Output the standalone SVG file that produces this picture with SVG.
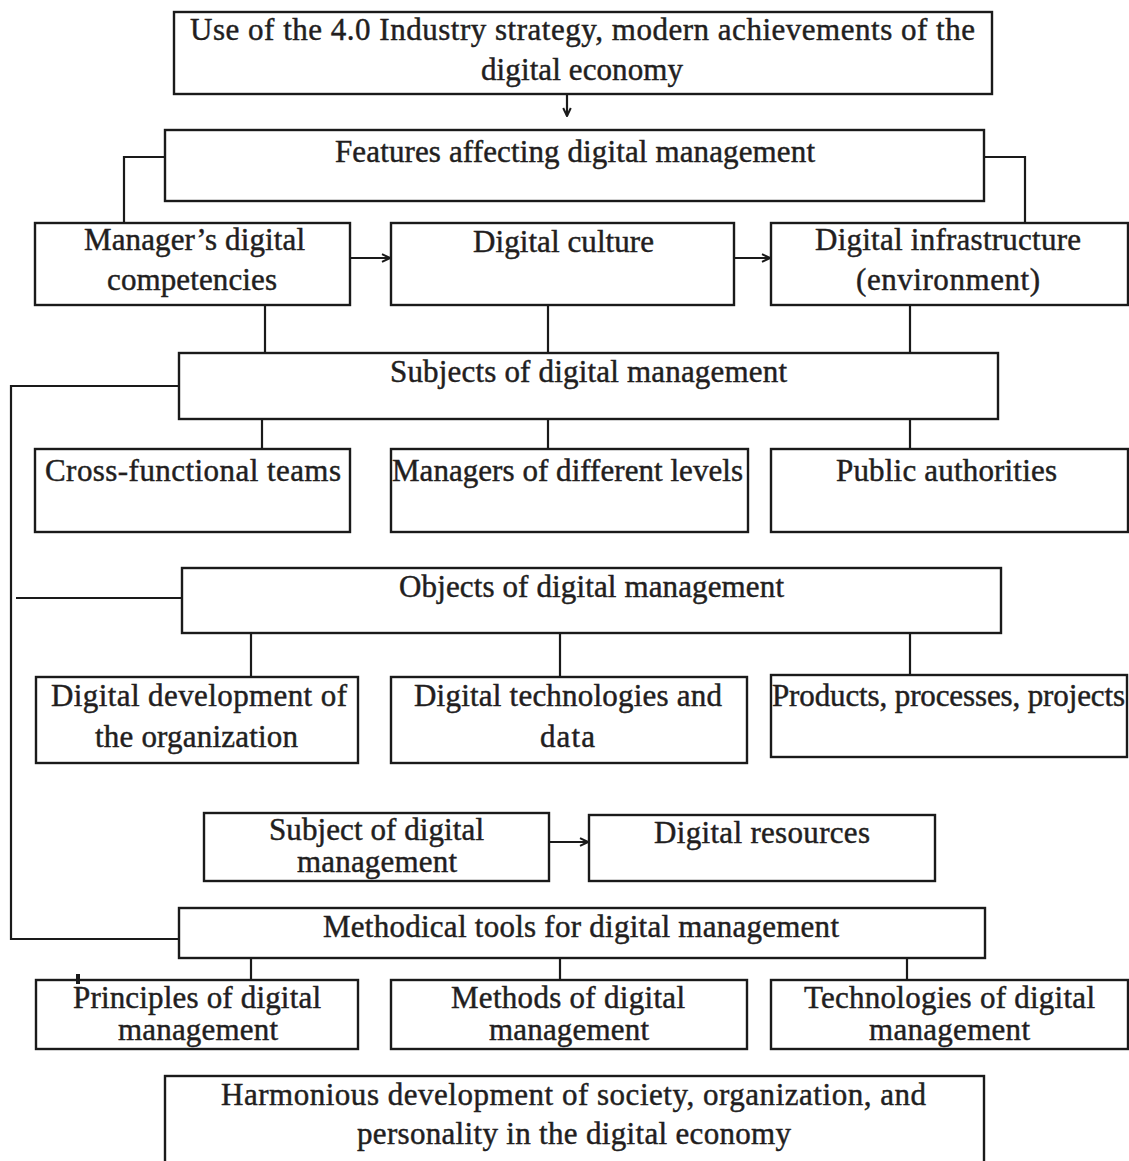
<svg xmlns="http://www.w3.org/2000/svg" width="1129" height="1161" viewBox="0 0 1129 1161">
  <style>
    .box { fill: #ffffff; stroke: #1a1a1a; stroke-width: 2.4; }
    .lbl { font-family: "Liberation Serif", "Times New Roman", serif; font-size: 31px; fill: #221e1e; stroke: #221e1e; stroke-width: 0.45; }
    .wire { fill: none; stroke: #1a1a1a; stroke-width: 2.2; }
  </style>
  <defs>
    <marker id="arrow" viewBox="0 0 10 10" refX="9" refY="5" markerWidth="10" markerHeight="10" markerUnits="userSpaceOnUse" orient="auto">
      <path d="M1,1.2 L9,5 L1,8.8" fill="none" stroke="#1a1a1a" stroke-width="2"/>
    </marker>
  </defs>
  <rect width="1129" height="1161" fill="#ffffff"/>

  <!-- connectors -->
  <g id="connectors">
    <line class="wire" x1="567" y1="84" x2="567" y2="116" marker-end="url(#arrow)"/>
    <polyline class="wire" points="165,157 124,157 124,223"/>
    <polyline class="wire" points="984,157 1025,157 1025,223"/>
    <line class="wire" x1="350" y1="258" x2="390" y2="258" marker-end="url(#arrow)"/>
    <line class="wire" x1="734" y1="258" x2="770" y2="258" marker-end="url(#arrow)"/>
    <line class="wire" x1="265" y1="305" x2="265" y2="353"/>
    <line class="wire" x1="548" y1="305" x2="548" y2="353"/>
    <line class="wire" x1="910" y1="305" x2="910" y2="353"/>
    <line class="wire" x1="262" y1="419" x2="262" y2="449"/>
    <line class="wire" x1="548" y1="419" x2="548" y2="449"/>
    <line class="wire" x1="910" y1="419" x2="910" y2="449"/>
    <polyline class="wire" points="179,386 11,386 11,939 179,939"/>
    <line class="wire" x1="16" y1="598" x2="182" y2="598"/>
    <line class="wire" x1="251" y1="633" x2="251" y2="677"/>
    <line class="wire" x1="560" y1="633" x2="560" y2="677"/>
    <line class="wire" x1="910" y1="633" x2="910" y2="675"/>
    <line class="wire" x1="549" y1="842" x2="588" y2="842" marker-end="url(#arrow)"/>
    <line class="wire" x1="251" y1="958" x2="251" y2="980"/>
    <line class="wire" x1="560" y1="958" x2="560" y2="980"/>
    <line class="wire" x1="907" y1="958" x2="907" y2="980"/>
  </g>

  <g id="strategy">
    <rect class="box" x="174" y="12" width="818" height="82"/>
    <text class="lbl" x="190" y="40" textLength="785" lengthAdjust="spacing">Use of the 4.0 Industry strategy, modern achievements of the</text>
    <text class="lbl" x="481" y="80" textLength="202" lengthAdjust="spacing">digital economy</text>
  </g>

  <g id="features">
    <rect class="box" x="165" y="130" width="819" height="71"/>
    <text class="lbl" x="335" y="162" textLength="480" lengthAdjust="spacing">Features affecting digital management</text>
  </g>

  <g id="competencies">
    <rect class="box" x="35" y="223" width="315" height="82"/>
    <text class="lbl" x="84" y="250" textLength="221" lengthAdjust="spacing">Manager’s digital</text>
    <text class="lbl" x="107" y="290" textLength="170" lengthAdjust="spacing">competencies</text>
  </g>

  <g id="culture">
    <rect class="box" x="391" y="223" width="343" height="82"/>
    <text class="lbl" x="473" y="252" textLength="181" lengthAdjust="spacing">Digital culture</text>
  </g>

  <g id="infrastructure">
    <rect class="box" x="771" y="223" width="357" height="82"/>
    <text class="lbl" x="815" y="250" textLength="266" lengthAdjust="spacing">Digital infrastructure</text>
    <text class="lbl" x="856" y="290" textLength="184" lengthAdjust="spacing">(environment)</text>
  </g>

  <g id="subjects">
    <rect class="box" x="179" y="353" width="819" height="66"/>
    <text class="lbl" x="390" y="382" textLength="397" lengthAdjust="spacing">Subjects of digital management</text>
  </g>

  <g id="teams">
    <rect class="box" x="35" y="449" width="315" height="83"/>
    <text class="lbl" x="45" y="481" textLength="296" lengthAdjust="spacing">Cross-functional teams</text>
  </g>

  <g id="managers">
    <rect class="box" x="391" y="449" width="357" height="83"/>
    <text class="lbl" x="392" y="481" textLength="351" lengthAdjust="spacing">Managers of different levels</text>
  </g>

  <g id="authorities">
    <rect class="box" x="771" y="449" width="357" height="83"/>
    <text class="lbl" x="836" y="481" textLength="221" lengthAdjust="spacing">Public authorities</text>
  </g>

  <g id="objects">
    <rect class="box" x="182" y="568" width="819" height="65"/>
    <text class="lbl" x="399" y="597" textLength="385" lengthAdjust="spacing">Objects of digital management</text>
  </g>

  <g id="development">
    <rect class="box" x="36" y="677" width="322" height="86"/>
    <text class="lbl" x="51" y="706" textLength="296" lengthAdjust="spacing">Digital development of</text>
    <text class="lbl" x="95" y="747" textLength="203" lengthAdjust="spacing">the organization</text>
  </g>

  <g id="technologies-data">
    <rect class="box" x="391" y="677" width="356" height="86"/>
    <text class="lbl" x="414" y="706" textLength="308" lengthAdjust="spacing">Digital technologies and</text>
    <text class="lbl" x="540" y="747" textLength="55" lengthAdjust="spacing">data</text>
  </g>

  <g id="products">
    <rect class="box" x="771" y="675" width="356" height="82"/>
    <text class="lbl" x="772" y="706" textLength="353" lengthAdjust="spacing">Products, processes, projects</text>
  </g>

  <g id="subject">
    <rect class="box" x="204" y="813" width="345" height="68"/>
    <text class="lbl" x="269" y="840" textLength="215" lengthAdjust="spacing">Subject of digital</text>
    <text class="lbl" x="297" y="872" textLength="160" lengthAdjust="spacing">management</text>
  </g>

  <g id="resources">
    <rect class="box" x="589" y="815" width="346" height="66"/>
    <text class="lbl" x="654" y="843" textLength="216" lengthAdjust="spacing">Digital resources</text>
  </g>

  <g id="methodical-tools">
    <rect class="box" x="179" y="908" width="806" height="50"/>
    <text class="lbl" x="323" y="937" textLength="516" lengthAdjust="spacing">Methodical tools for digital management</text>
  </g>

  <g id="principles">
    <rect class="box" x="36" y="980" width="322" height="69"/>
    <rect x="76" y="974" width="4" height="10" fill="#1a1a1a"/>
    <text class="lbl" x="73" y="1008" textLength="248" lengthAdjust="spacing">Principles of digital</text>
    <text class="lbl" x="118" y="1040" textLength="160" lengthAdjust="spacing">management</text>
  </g>

  <g id="methods">
    <rect class="box" x="391" y="980" width="356" height="69"/>
    <text class="lbl" x="451" y="1008" textLength="234" lengthAdjust="spacing">Methods of digital</text>
    <text class="lbl" x="489" y="1040" textLength="160" lengthAdjust="spacing">management</text>
  </g>

  <g id="technologies">
    <rect class="box" x="771" y="980" width="357" height="69"/>
    <text class="lbl" x="804" y="1008" textLength="291" lengthAdjust="spacing">Technologies of digital</text>
    <text class="lbl" x="869" y="1040" textLength="161" lengthAdjust="spacing">management</text>
  </g>

  <g id="harmonious">
    <rect class="box" x="165" y="1076" width="819" height="100"/>
    <text class="lbl" x="221" y="1105" textLength="705" lengthAdjust="spacing">Harmonious development of society, organization, and</text>
    <text class="lbl" x="357" y="1144" textLength="434" lengthAdjust="spacing">personality in the digital economy</text>
  </g>
</svg>
